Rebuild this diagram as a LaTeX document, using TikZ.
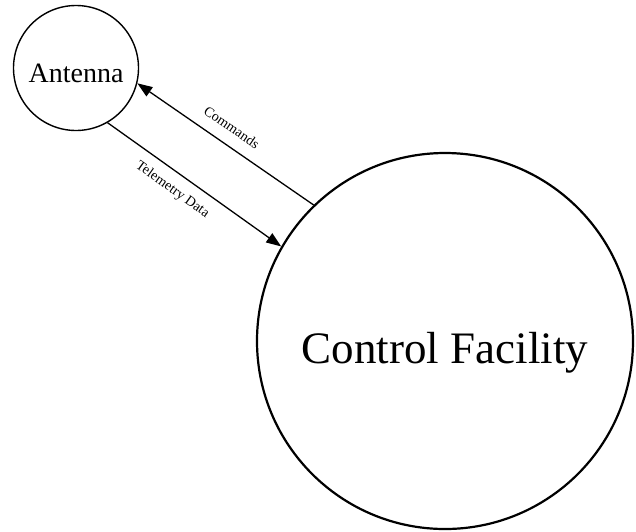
\documentclass[tikz,border=0pt]{standalone}
\usepackage{fontspec}
\setmainfont{Liberation Serif}
\usetikzlibrary{arrows.meta}
\begin{document}
\begin{tikzpicture}[x=1pt,y=1pt,
  proc/.style={circle, draw=black, fill=white, inner sep=0pt, text depth=0pt},
  flow/.style={line width=1.3pt, -{Triangle[length=15pt,width=11pt]}},
  flowlabel/.style={font=\fontsize{14}{14}\selectfont, sloped, inner sep=0pt}]
  \useasboundingbox (0,0) rectangle (636,-531);
  % processes
  \node[proc, minimum size=125pt, line width=1.4pt, text height=28pt,
        font=\fontsize{28}{28}\selectfont] (ant) at (76,-68) {Antenna};
  \node[proc, minimum size=376pt, line width=2.2pt, text height=44pt,
        font=\fontsize{45}{45}\selectfont] (cf) at (445,-341) {Control Facility};
  % data flows
  \draw[flow] (cf.134.6) -- node[flowlabel, above=12pt, pos=0.52] {Commands} (ant.-14.5);
  \draw[flow] (ant.-60.6) -- node[flowlabel, below=10pt, pos=0.43] {Telemetry Data} (cf.150.9);
\end{tikzpicture}
\end{document}
